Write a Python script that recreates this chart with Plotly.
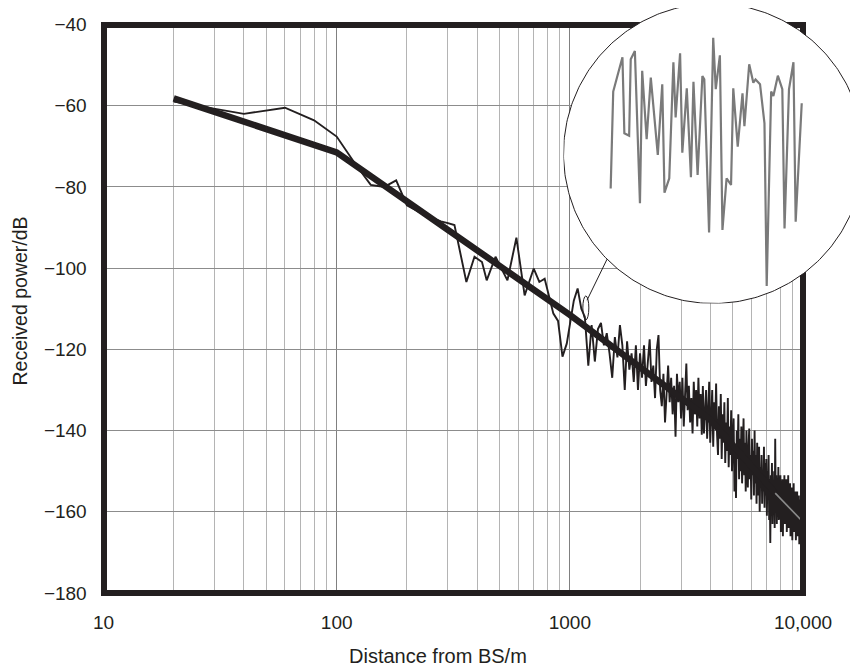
import numpy as np
import plotly.graph_objects as go

# the page has an 8 px body margin, so the figure is 850x663 placed at (8, 8)
OFF = 8
W, H = 858 - OFF, 671 - OFF

# ---------------- data ----------------
# measured received power, near region (read from picture)
near_dist = [20, 40, 60, 80, 100, 120, 140, 160, 180, 200, 240, 280, 300, 320, 360, 390,
             420, 440, 480, 510, 540, 590, 640, 700, 740, 780, 820, 850, 890, 930, 970, 1000]
near_db = [-59.0, -62.0, -60.5, -63.6, -67.6, -74.3, -79.5, -80.0, -78.4, -84.5, -87.0, -88.5,
           -88.9, -89.4, -103.4, -97.2, -98.5, -103.0, -97.2, -100.0, -103.0, -92.5, -106.7,
           -100.1, -103.4, -102.6, -108.0, -111.2, -113.0, -121.8, -118.6, -114.0]

# measured received power, far region: samples every 40 m from 1040 m to 10,000 m
far_dist = list(range(1040, 10001, 40))
far_db = [
    -108, -105, -110, -112, -124,
    -114, -123, -115, -113.5, -119,
    -116, -121, -127, -117, -122,
    -114, -119, -130, -118, -125,
    -121, -128, -119, -130, -121,
    -127, -119, -129, -122, -117.5,
    -128, -124, -132, -120, -116.5,
    -130, -134, -126, -138, -131,
    -124, -133, -127, -136, -129,
    -141.5, -126, -133, -128, -137,
    -127, -139, -130, -123.5, -135,
    -129, -138, -132, -140.7, -128,
    -136, -130, -139, -127, -137,
    -131, -141, -129, -140.7, -133,
    -130, -142, -134, -128, -143,
    -135, -130, -144, -133, -139,
    -128.4, -141, -146, -134, -142,
    -131, -147, -136, -143, -133,
    -148, -138, -145, -132, -149,
    -139, -146, -135, -150, -141,
    -137, -155, -144, -156.6, -140,
    -147, -136, -152, -142, -150,
    -139, -153, -145, -137, -151,
    -143, -155, -140, -149, -154,
    -144, -139.5, -152, -146, -157,
    -142, -151, -145, -156, -140,
    -153, -146, -158, -143, -151,
    -156, -144, -160, -149, -153,
    -146, -158, -150, -155, -144,
    -159, -148, -156, -147, -161,
    -150, -157, -146, -162, -152,
    -167.7, -151, -158, -148, -163,
    -153, -160, -150, -164, -142,
    -158, -151, -163, -155, -160,
    -149, -162, -154, -159, -151,
    -165, -155, -160, -152, -166,
    -154, -161, -151, -163, -156,
    -162, -152, -165, -157, -161,
    -151, -164, -155, -160, -153,
    -166, -157, -162, -154, -167,
    -158, -163, -153, -165, -158,
    -163, -155, -167, -159, -164,
    -155, -166, -158, -163, -156,
    -168, -160, -165, -157, -167,
    -159, -164, -158, -168, -162,
]

# fitted path-loss model (thick line) and its continuation (grey)
model_dist = [20, 100, 1000, 2400, 4000, 7600]
model_db = [-58.2, -71.5, -111.5, -128.0, -137.3, -155.4]
tail_dist = [7600, 10000]
tail_db = [-155.4, -162.5]

# magnified detail (inset) around ~1130 m
inset_dist = [1100.0, 1100.8, 1101.9, 1103.7, 1104.3, 1105.8, 1106.3, 1107.6, 1109.2, 1109.9,
              1111.3, 1112.6, 1114.8, 1116.2, 1116.9, 1118.4, 1119.7, 1120.4, 1121.8, 1122.5,
              1123.9, 1125.2, 1126.0, 1127.3, 1128.8, 1129.4, 1130.9, 1132.2, 1133.0, 1134.3,
              1135.1, 1136.4, 1137.8, 1138.5, 1139.9, 1141.4, 1142.0, 1143.5, 1144.8, 1145.5,
              1146.9, 1148.3, 1149.0, 1150.4, 1151.1, 1152.5, 1153.9, 1154.6, 1156.0, 1157.4,
              1158.1, 1160.0]
inset_db = [-111.07, -107.17, -106.64, -105.79, -108.85, -108.95, -105.87, -105.54, -111.67,
            -106.33, -109.09, -106.61, -109.72, -106.88, -111.24, -110.66, -105.99, -108.21,
            -105.63, -109.63, -107.04, -110.62, -106.78, -110.53, -106.54, -106.68, -112.84,
            -105.00, -107.07, -105.71, -112.74, -110.66, -110.93, -107.04, -109.39, -107.24,
            -108.56, -106.07, -106.81, -106.68, -106.87, -108.45, -115.00, -107.17, -107.35,
            -106.53, -107.07, -112.68, -107.08, -105.99, -112.41, -107.64]

x_tick_vals = [10, 100, 1000, 10000]
x_tick_text = ["10", "100", "1000", "10,000"]
x_minor_vals = [k * 10 ** d for d in (1, 2, 3) for k in range(2, 10)]
y_tick_vals = [-180, -160, -140, -120, -100, -80, -60, -40]
y_tick_text = ["\u2212180", "\u2212160", "\u2212140", "\u2212120", "\u2212100",
               "\u221280", "\u221260", "\u221240"]
x_title = "Distance from BS/m"
y_title = "Received power/dB"

# ---------------- layout geometry (page pixels -> figure pixels) ----------------
PL, PR, PT, PB = 103.5 - OFF, 803.0 - OFF, 24.5 - OFF, 593.0 - OFF
BW = 6  # border width
CX, CY, CR = 713.5 - OFF, 153.5 - OFF, 150.0
IX0, IX1, IY0, IY1 = 604.3 - OFF, 808.1 - OFF, 30.25 - OFF, 293.45 - OFF
INK = "#231f20"
FONT = "Liberation Sans, Arial, sans-serif"

fig = go.Figure()

# main data
fig.add_trace(go.Scatter(x=near_dist + far_dist, y=near_db + far_db, mode="lines",
                         line=dict(color=INK, width=1.9), xaxis="x", yaxis="y"))
fig.add_trace(go.Scatter(x=model_dist, y=model_db, mode="lines",
                         line=dict(color=INK, width=6.5), xaxis="x", yaxis="y"))
fig.add_trace(go.Scatter(x=tail_dist, y=tail_db, mode="lines",
                         line=dict(color="#8a8a8a", width=1.6), xaxis="x", yaxis="y"))

# frame subplot (needs a trace so that it gets drawn); placeholder is invisible
fig.add_trace(go.Scatter(x=[0.5], y=[0.5], mode="markers", marker=dict(opacity=0),
                         xaxis="x2", yaxis="y2"))

# magnifier circle (white disc) in its own subplot, drawn above the frame
t = np.linspace(0, 2 * np.pi, 361)
fig.add_trace(go.Scatter(x=np.cos(t), y=np.sin(t), mode="lines", fill="toself",
                         fillcolor="white", line=dict(color=INK, width=1),
                         xaxis="x3", yaxis="y3"))
# inset magnified data
fig.add_trace(go.Scatter(x=inset_dist, y=inset_db, mode="lines",
                         line=dict(color="#7a7a7a", width=2.2), xaxis="x4", yaxis="y4"))

# small ellipse marking the magnified region + leader line
fig.add_shape(type="circle", xref="x", yref="y", xsizemode="pixel", ysizemode="pixel",
              xanchor=1137, yanchor=-109.8, x0=-6, x1=6, y0=-12, y1=12,
              line=dict(color=INK, width=1), layer="above")
fig.add_shape(type="line", xref="x", yref="y", x0=1185, y0=-107.9, x1=1444, y1=-97.8,
              line=dict(color=INK, width=1), layer="above")

# axis titles
fig.add_annotation(text=x_title, xref="paper", yref="paper",
                   x=(438 - OFF) / W, y=1 - (656 - OFF) / H,
                   xanchor="center", yanchor="middle", showarrow=False,
                   font=dict(family=FONT, size=20, color=INK))
fig.add_annotation(text=y_title, xref="paper", yref="paper",
                   x=(19.5 - OFF) / W, y=1 - (301 - OFF) / H, textangle=-90,
                   xanchor="center", yanchor="middle", showarrow=False,
                   font=dict(family=FONT, size=19.5, color=INK))

fig.update_layout(
    width=W, height=H,
    margin=dict(l=0, r=0, t=0, b=0),
    paper_bgcolor="white", plot_bgcolor="rgba(0,0,0,0)",
    showlegend=False, hovermode=False,
    font=dict(family=FONT, size=19, color=INK),
    xaxis=dict(type="log", range=[1, 4], domain=[PL / W, PR / W], anchor="y",
               tickmode="array", tickvals=x_tick_vals, ticktext=x_tick_text,
               showgrid=True, gridcolor="#808080", gridwidth=1.4,
               minor=dict(tickmode="array", tickvals=x_minor_vals, showgrid=True,
                          gridcolor="#b4b4b4", gridwidth=1.4, ticks=""),
               ticks="outside", ticklen=12, tickcolor="rgba(0,0,0,0)",
               showline=False, zeroline=False, automargin=False),
    yaxis=dict(range=[-180, -40], domain=[1 - PB / H, 1 - PT / H], anchor="x",
               tickmode="array", tickvals=y_tick_vals, ticktext=y_tick_text,
               showgrid=True, gridcolor="#8c8c8c", gridwidth=1.3,
               ticks="outside", ticklen=12, tickcolor="rgba(0,0,0,0)",
               showline=False, zeroline=False, automargin=False),
    # frame: axis lines of a subplot inset by half the border width
    xaxis2=dict(domain=[(PL + BW / 2) / W, (PR - BW / 2) / W], range=[0, 1], anchor="y2",
                showline=True, mirror=True, linewidth=BW, linecolor=INK,
                showgrid=False, zeroline=False, showticklabels=False, ticks="",
                fixedrange=True),
    yaxis2=dict(domain=[1 - (PB - BW / 2) / H, 1 - (PT + BW / 2) / H], range=[0, 1],
                anchor="x2", showline=True, mirror=True, linewidth=BW, linecolor=INK,
                showgrid=False, zeroline=False, showticklabels=False, ticks="",
                fixedrange=True),
    # magnifier disc
    xaxis3=dict(domain=[(CX - CR) / W, 1.0], range=[-1, (W - (CX - CR)) / CR - 1],
                anchor="y3", visible=False, fixedrange=True),
    yaxis3=dict(domain=[1 - (CY + CR) / H, 1.0],
                range=[-1, -1 + (CY + CR) / CR],
                anchor="x3", visible=False, fixedrange=True),
    # inset data
    xaxis4=dict(domain=[IX0 / W, IX1 / W], range=[1098, 1162],
                anchor="y4", visible=False, fixedrange=True),
    yaxis4=dict(domain=[1 - IY1 / H, 1 - IY0 / H], range=[-115.3, -104.7],
                anchor="x4", visible=False, fixedrange=True),
)

fig.write_html("out.html")
